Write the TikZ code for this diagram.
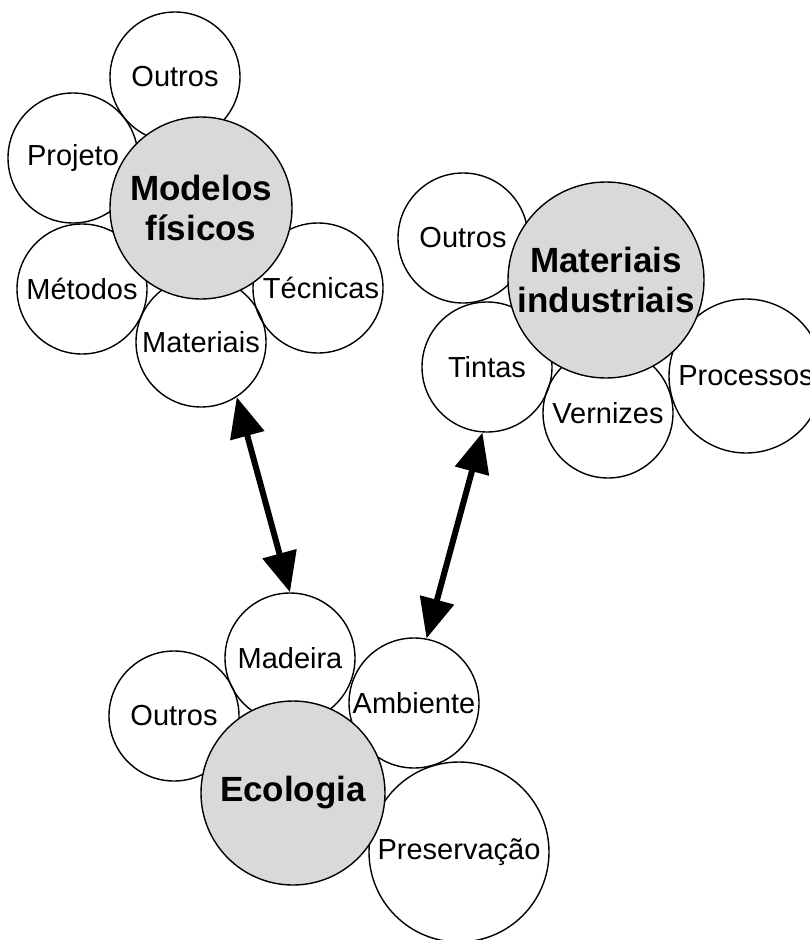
\documentclass[tikz,border=0pt]{standalone}
\usepackage{fontspec}
\setmainfont{Liberation Sans}
\usetikzlibrary{arrows.meta}
\definecolor{hubgray}{RGB}{217,217,217}
\begin{document}
\begin{tikzpicture}[x=1pt,y=-1pt,
  ring/.style={circle,draw=black,line width=1.4pt,inner sep=0pt,minimum size=#1},
  ring/.default=130pt,
  hub/.style={circle,draw=black,line width=1.4pt,fill=hubgray,inner sep=0pt,
    minimum size=#1,align=center,font=\fontsize{35}{39.5}\selectfont\bfseries},
  word/.style={inner sep=0pt,font=\fontsize{29}{34}\selectfont},
  link/.style={line width=6pt,
    {Triangle[length=40pt,width=34pt]}-{Triangle[length=40pt,width=34pt]}}
]
\useasboundingbox (0,0) rectangle (810,940);
\clip (0,0) rectangle (810,940);

% --- outer circles (outlines only) ---
% Modelos fisicos
\node[ring] (out1) at (175,77)  {};
\node[ring] (proj) at (73,158)  {};
\node[ring] (met)  at (82,289)  {};
\node[ring] (tec)  at (318,288) {};
\node[ring] (mat1) at (201,342) {};
% Materiais industriais
\node[ring] (out2) at (463,238) {};
\node[ring] (tin)  at (487,367) {};
\node[ring] (ver)  at (608,413) {};
\node[ring=154pt] (proc) at (746,376) {};
% Ecologia
\node[ring] (mad)  at (290,658) {};
\node[ring] (out3) at (174,716) {};
\node[ring] (amb)  at (414,703) {};
\node[ring=180pt] (pres) at (459,852) {};

% --- central grey circles ---
\node[hub=182pt] (mod)    at (201,208) {Modelos\\físicos};
\node[hub=196pt] (matind) at (606,280) {Materiais\\industriais};
\node[hub=184pt] (eco)    at (293,793) {Ecologia};

% --- labels of the outer circles ---
\node[word] (out1-t) at (out1) {Outros};
\node[word] (proj-t) at (proj) {Projeto};
\node[word] (met-t)  at (met)  {Métodos};
\node[word] (tec-t)  at ([xshift=3pt]tec.center) {Técnicas};
\node[word] (mat1-t) at (mat1) {Materiais};
\node[word] (out2-t) at (out2) {Outros};
\node[word] (tin-t)  at (tin)  {Tintas};
\node[word] (ver-t)  at (ver)  {Vernizes};
\node[word] (proc-t) at (proc) {Processos};
\node[word] (mad-t)  at (mad)  {Madeira};
\node[word] (out3-t) at (out3) {Outros};
\node[word] (amb-t)  at (amb)  {Ambiente};
\node[word] (pres-t) at (pres) {Preservação};

% --- double-headed links ---
\draw[link] (mat1.-57) -- (mad.90);
\draw[link] (tin.-94) -- (amb.79);
\end{tikzpicture}
\end{document}
